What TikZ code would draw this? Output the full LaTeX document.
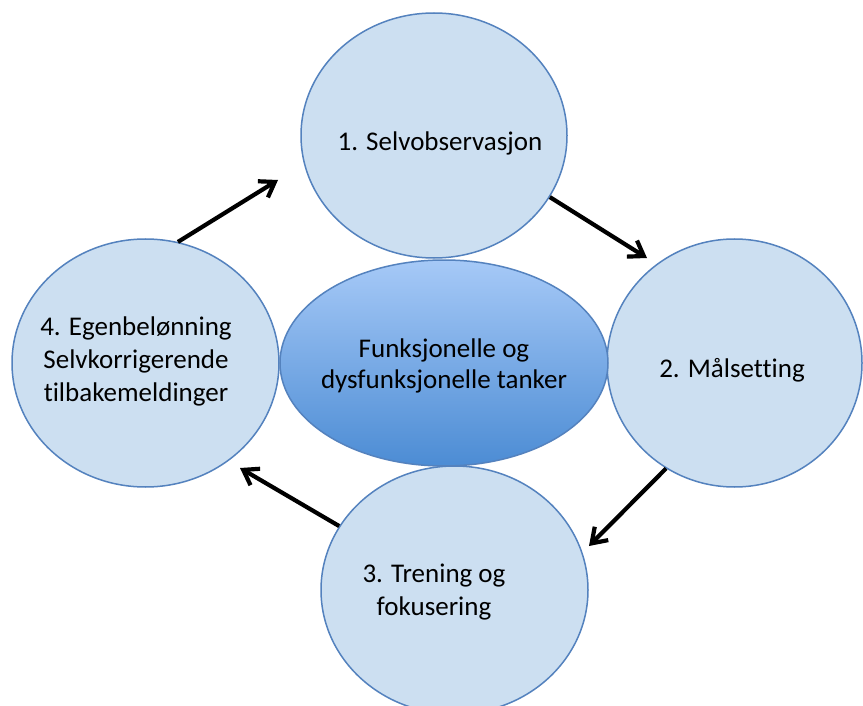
\documentclass[tikz,border=0pt]{standalone}
\usepackage{fontspec}
\setmainfont[Ligatures=NoCommon]{Carlito}
\usetikzlibrary{arrows.meta,shapes.geometric}
\definecolor{circfill}{RGB}{204,223,241}
\definecolor{circline}{RGB}{84,130,190}
\definecolor{elltop}{RGB}{166,201,247}
\definecolor{ellbot}{RGB}{76,140,212}
\tikzset{
  phase/.style={ellipse,draw=circline,line width=1.5pt,fill=circfill,inner sep=0pt},
  core/.style={ellipse,draw=circline,line width=1.5pt,top color=elltop,bottom color=ellbot,inner sep=0pt},
  lbl/.style={align=center,font=\fontsize{27}{33}\selectfont,text=black,inner sep=0pt},
  flow/.style={line width=4.2pt,-{Straight Barb[length=14pt,width=19pt]}}
}
\begin{document}
\begin{tikzpicture}[x=1pt,y=-1pt]
\clip (0,0) rectangle (863,706);
\fill[white] (0,0) rectangle (863,706);
% four phase circles
\node[phase,minimum width=266pt,minimum height=245pt] (c1) at (434,135.5) {};
\node[phase,minimum width=255pt,minimum height=248pt] (c2) at (734.5,363) {};
\node[phase,minimum width=267pt,minimum height=248pt] (c3) at (454.5,590) {};
\node[phase,minimum width=267pt,minimum height=248pt] (c4) at (145.5,363) {};
% central ellipse
\node[core,minimum width=328pt,minimum height=206pt] (c0) at (444,363) {};
% texts
\node[lbl] (t1) at (440,143) {1. Selvobservasjon};
\node[lbl] (t2) at (732,370) {2. Målsetting};
\node[lbl] (t3) at (434,592) {3. Trening og\\fokusering};
\node[lbl] (t4) at (136,361) {4. Egenbelønning\\Selvkorrigerende\\tilbakemeldinger};
\node[lbl,font=\fontsize{27}{31}\selectfont] (t0) at (444,366) {Funksjonelle og\\dysfunksjonelle tanker};
% arrow tips
\coordinate (e1) at (278,180);
\coordinate (e2) at (647,258);
\coordinate (e3) at (589,546);
\coordinate (e4) at (240,468);
\draw[flow] (c4.75.6) -- (e1);
\draw[flow] (c1.-28.9) -- (e2);
\draw[flow] (c2.237.5) -- (e3);
\draw[flow] (c3.151.2) -- (e4);
\end{tikzpicture}
\end{document}
